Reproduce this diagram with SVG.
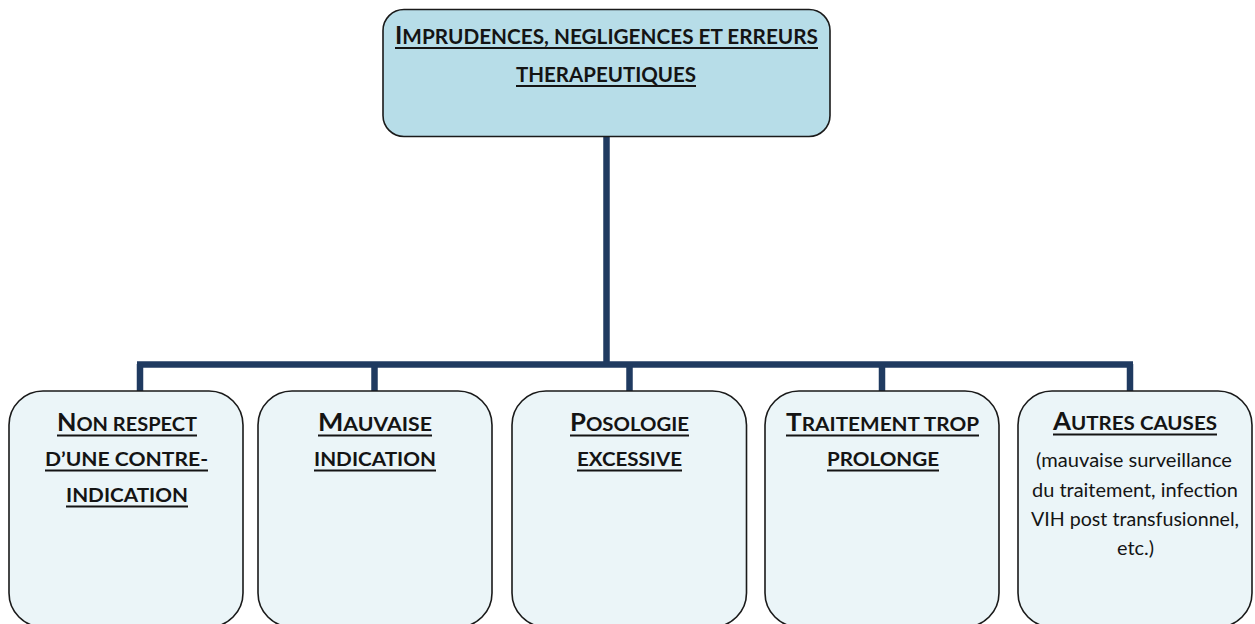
<svg xmlns="http://www.w3.org/2000/svg" width="1255" height="624" viewBox="0 0 1255 624">
<style>
.top{fill:#b7dde8;stroke:#1a1a1a;stroke-width:1.6}
.box{fill:#ebf5f8;stroke:#1a1a1a;stroke-width:1.6}
.h{font-family:Lato,"Open Sans","Liberation Sans",sans-serif;font-weight:bold;fill:#141414}
.big{font-size:24px}
.sm{font-size:19px}
.tbig{font-size:25px}
.tsm{font-size:21px}
.n{font-family:Lato,"Open Sans","Liberation Sans",sans-serif;font-size:19.5px;fill:#141414}
.ul{fill:#141414}
.conn{stroke:#1f3a60;stroke-width:6.5;fill:none}
</style>
<rect width="1255" height="624" fill="#ffffff"/>
<g id="connectors">
<line class="conn" x1="606.5" y1="137" x2="606.5" y2="364"/>
<line class="conn" x1="137" y1="364.5" x2="1133" y2="364.5"/>
<line class="conn" x1="140" y1="364" x2="140" y2="391"/>
<line class="conn" x1="374.5" y1="364" x2="374.5" y2="391"/>
<line class="conn" x1="629.5" y1="364" x2="629.5" y2="391"/>
<line class="conn" x1="882" y1="364" x2="882" y2="391"/>
<line class="conn" x1="1130" y1="364" x2="1130" y2="391"/>
</g>
<g id="root">
<rect class="top" x="383" y="9.5" width="447" height="127" rx="21"/>
<text class="h" x="395" y="44" textLength="423" lengthAdjust="spacingAndGlyphs"><tspan class="tbig">I</tspan><tspan class="tsm">MPRUDENCES, NEGLIGENCES ET ERREURS</tspan></text>
<rect class="ul" x="395" y="47" width="423" height="2"/>
<text class="h tsm" x="516" y="82" textLength="180" lengthAdjust="spacingAndGlyphs">THERAPEUTIQUES</text>
<rect class="ul" x="516" y="85" width="180" height="2"/>
</g>
<g id="node1">
<rect class="box" x="9" y="391" width="234" height="236" rx="34"/>
<text class="h" x="57" y="431" textLength="140" lengthAdjust="spacingAndGlyphs"><tspan class="big">N</tspan><tspan class="sm">ON RESPECT</tspan></text>
<rect class="ul" x="57" y="434.5" width="140" height="2"/>
<text class="h sm" x="45" y="466" textLength="163" lengthAdjust="spacingAndGlyphs">D’UNE CONTRE-</text>
<rect class="ul" x="45" y="469.5" width="163" height="2"/>
<text class="h sm" x="66" y="502" textLength="122" lengthAdjust="spacingAndGlyphs">INDICATION</text>
<rect class="ul" x="66" y="505.5" width="122" height="2"/>
</g>
<g id="node2">
<rect class="box" x="258" y="391" width="234" height="236" rx="34"/>
<text class="h" x="318" y="431" textLength="114" lengthAdjust="spacingAndGlyphs"><tspan class="big">M</tspan><tspan class="sm">AUVAISE</tspan></text>
<rect class="ul" x="318" y="434.5" width="114" height="2"/>
<text class="h sm" x="314" y="466" textLength="122" lengthAdjust="spacingAndGlyphs">INDICATION</text>
<rect class="ul" x="314" y="469.5" width="122" height="2"/>
</g>
<g id="node3">
<rect class="box" x="512" y="391" width="234.5" height="236" rx="34"/>
<text class="h" x="570" y="431" textLength="119" lengthAdjust="spacingAndGlyphs"><tspan class="big">P</tspan><tspan class="sm">OSOLOGIE</tspan></text>
<rect class="ul" x="570" y="434.5" width="119" height="2"/>
<text class="h sm" x="577" y="466" textLength="105" lengthAdjust="spacingAndGlyphs">EXCESSIVE</text>
<rect class="ul" x="577" y="469.5" width="105" height="2"/>
</g>
<g id="node4">
<rect class="box" x="765" y="391" width="234" height="236" rx="34"/>
<text class="h" x="786" y="431" textLength="193" lengthAdjust="spacingAndGlyphs"><tspan class="big">T</tspan><tspan class="sm">RAITEMENT TROP</tspan></text>
<rect class="ul" x="786" y="434.5" width="193" height="2"/>
<text class="h sm" x="827" y="466" textLength="112" lengthAdjust="spacingAndGlyphs">PROLONGE</text>
<rect class="ul" x="827" y="469.5" width="112" height="2"/>
</g>
<g id="node5">
<rect class="box" x="1018" y="391" width="234" height="236" rx="34"/>
<text class="h" x="1053" y="430" textLength="164" lengthAdjust="spacingAndGlyphs"><tspan class="big">A</tspan><tspan class="sm">UTRES CAUSES</tspan></text>
<rect class="ul" x="1053" y="433.5" width="164" height="2"/>
<text class="n" x="1036" y="467" textLength="196" lengthAdjust="spacingAndGlyphs">(mauvaise surveillance</text>
<text class="n" x="1032" y="497" textLength="206" lengthAdjust="spacingAndGlyphs">du traitement, infection</text>
<text class="n" x="1031" y="526" textLength="208" lengthAdjust="spacingAndGlyphs">VIH post transfusionnel,</text>
<text class="n" x="1117" y="555" textLength="37" lengthAdjust="spacingAndGlyphs">etc.)</text>
</g>
</svg>
